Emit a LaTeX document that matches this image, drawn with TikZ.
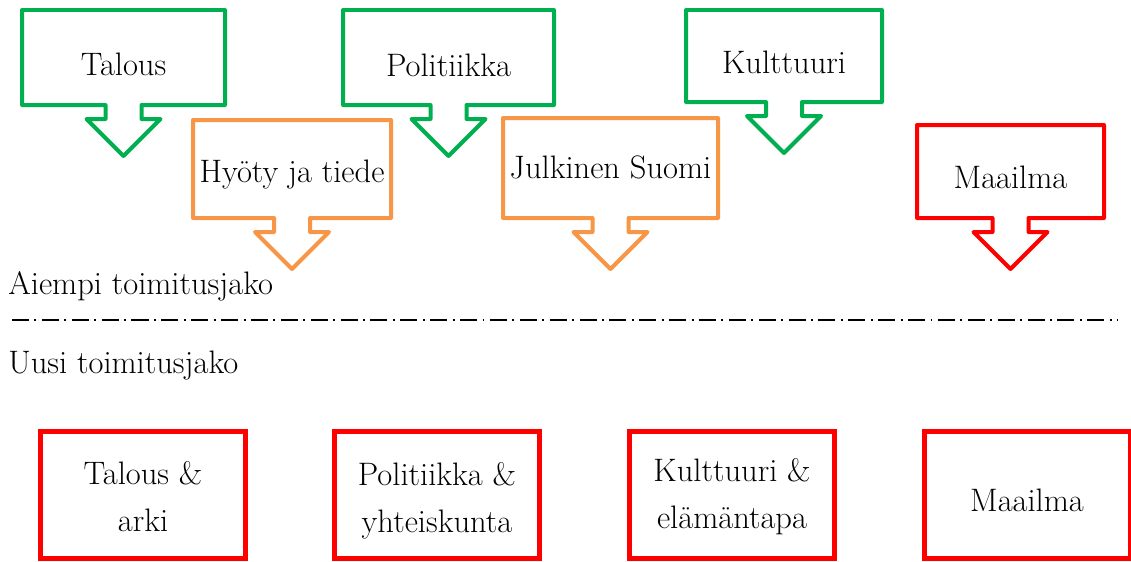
\documentclass[tikz,border=0pt]{standalone}
\usepackage{fontspec}
\usepackage{xcolor}
\usepackage{tikz}
\usetikzlibrary{positioning,calc}
\definecolor{oldgreen}{HTML}{00B050}
\definecolor{oldorange}{HTML}{F79646}
\definecolor{newred}{HTML}{FF0000}

% box with a down arrow under it: colour, left, top, right, bottom
\newcommand{\downcallout}[5]{%
  \draw[callout, draw=#1] (#2,#3) -- (#4,#3) -- (#4,#5)
    -- ({(#2+#4)/2+18},#5) -- ({(#2+#4)/2+18},{#5+14}) -- ({(#2+#4)/2+37},{#5+14})
    -- ({(#2+#4)/2},{#5+51}) -- ({(#2+#4)/2-37},{#5+14}) -- ({(#2+#4)/2-18},{#5+14})
    -- ({(#2+#4)/2-18},#5) -- (#2,#5) -- cycle;}

\begin{document}
\begin{tikzpicture}[x=0.02cm, y=-0.02cm, every node/.style={font=\fontsize{18.5pt}{26.7pt}\selectfont, inner sep=0pt}, callout/.style={line width=0.08cm, line join=round, fill=white}, lbl/.style={anchor=base}, newbox/.style={draw=newred, line width=0.1cm, minimum width=4.12cm, minimum height=2.54cm}, divider/.style={line width=0.04cm, dash pattern=on 9.7pt off 3.1pt on 1.1pt off 3.1pt}]
\useasboundingbox (0,0) rectangle (1131,561);
% old desks
\downcallout{oldgreen}{22}{10}{225}{105}
\downcallout{oldgreen}{343}{10}{554}{105}
\downcallout{oldgreen}{686}{10}{882}{102}
\downcallout{oldorange}{193}{120}{391}{218}
\downcallout{oldorange}{503}{118}{718}{218}
\downcallout{newred}{917}{125}{1104}{218}
\node[lbl] (talous) at (123.5,75) {Talous};
\node[lbl] (politiikka) at (448.5,76) {Politiikka};
\node[lbl] (kulttuuri) at (784,73) {Kulttuuri};
\node[lbl] (hyoty) at (292,182) {Hyöty ja tiede};
\node[lbl] (julkinen) at (610.5,178) {Julkinen Suomi};
\node[lbl] (maailma) at (1010.5,188) {Maailma};
% split
\node[lbl, anchor=base west] (aiempi) at (8,294) {Aiempi toimitusjako};
\node[lbl, anchor=base west] (uusi) at (8,373) {Uusi toimitusjako};
\coordinate (divL) at (12,320);
\coordinate (divR) at (1118,320);
\draw[divider] (divL) -- (divR);
% new desks
\node[newbox] (utalous) at (143,495) {};
\node[newbox] (upolitiikka) at (437,495) {};
\node[newbox] (ukulttuuri) at (732,495) {};
\node[newbox] (umaailma) at (1027,495) {};
\node[align=center] (utalouslbl) at ($(utalous.center)+(0,2)$) {Talous \&\\arki};
\node[align=center] (upolitiikkalbl) at ($(upolitiikka.center)+(0,6)$) {Politiikka \&\\yhteiskunta};
\node[align=center] (ukulttuurilbl) at ($(ukulttuuri.center)+(0,2)$) {Kulttuuri \&\\elämäntapa};
\node (umaailmalbl) at ($(umaailma.center)+(0,5)$) {Maailma};
\end{tikzpicture}
\end{document}
